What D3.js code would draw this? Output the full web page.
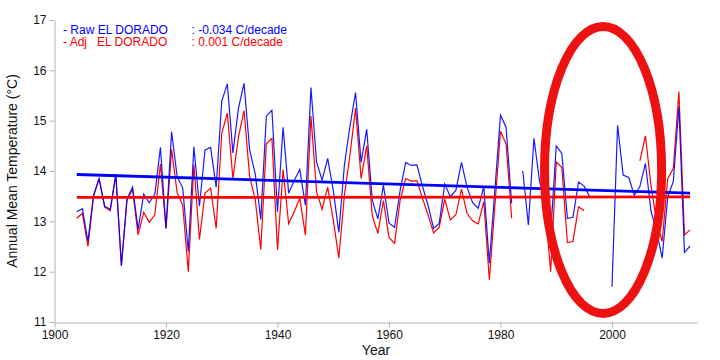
<!DOCTYPE html>
<html><head><meta charset="utf-8">
<script src="https://cdn.jsdelivr.net/npm/d3@7"></script>
<style>
body{margin:0;background:#fff}
text{font-family:"Liberation Sans",Arial,sans-serif}
</style>
</head><body>
<svg id="c" width="720" height="360"></svg>
<script>
// ---- data ----
const years = d3.range(1904, 2015);
const rawValues = [
13.19,13.25,12.60,13.52,13.85,13.30,13.24,13.94,12.12,13.44, // 1904-1913
13.68,12.84,13.54,13.37,13.54,14.47,12.86,14.78,13.89,13.66, // 1914-1923
12.40,14.48,13.30,14.42,14.47,13.68,15.39,15.73,14.36,15.25, // 1924-1933
15.74,14.42,13.95,13.04,15.09,15.21,13.19,14.87,13.56,13.81, // 1934-1943
14.03,13.32,15.66,14.18,13.82,14.25,13.62,12.78,14.12,14.89, // 1944-1953
15.56,14.17,14.83,13.42,13.05,13.72,12.97,12.88,13.62,14.17, // 1954-1963
14.11,14.12,13.70,13.32,12.86,12.96,13.74,13.49,13.62,14.17, // 1964-1973
13.68,13.37,13.26,13.69,12.17,13.64,15.11,14.87,13.36,null,  // 1974-1983
14.00,12.93,14.65,13.80,13.40,12.76,14.50,14.35,13.06,13.08, // 1984-1993
13.78,13.70,13.49,null,null,null,11.70,14.91,13.92,13.87,    // 1994-2003
13.52,13.69,14.15,13.20,12.80,12.27,13.49,13.79,15.28,12.38, // 2004-2013
12.51                                                        // 2014
];
const adjValues = [
13.06,13.16,12.50,13.49,13.85,13.28,13.21,13.92,12.12,13.42, // 1904-1913
13.64,12.73,13.18,12.98,13.13,14.14,12.86,14.43,13.57,13.32, // 1914-1923
12.00,14.13,12.64,13.56,13.66,12.86,14.75,15.15,13.85,14.68, // 1924-1933
15.20,13.89,13.44,12.44,14.54,14.65,12.43,14.03,12.95,13.19, // 1934-1943
13.46,12.73,15.09,13.59,13.24,13.68,13.03,12.27,13.52,14.32, // 1944-1953
15.25,13.85,14.50,13.11,12.76,13.41,12.68,12.56,13.42,13.85, // 1954-1963
13.80,13.81,13.46,13.13,12.77,12.88,13.44,13.03,13.13,13.64, // 1964-1973
13.16,13.01,12.95,13.39,11.84,13.32,14.79,14.54,13.06,null,  // 1974-1983
null,null,null,null,13.30,12.00,14.18,14.07,12.58,12.60,     // 1984-1993
13.29,13.21,null,null,null,null,null,null,null,null,         // 1994-2003
null,14.20,14.70,13.70,13.00,12.60,13.85,14.05,15.58,12.73,  // 2004-2013
12.83                                                        // 2014
];
const trendYears = [1904, 2014];
const rawTrend = [13.93, 13.56];
const adjTrend = [13.475, 13.485];
const xTicks = [1900, 1920, 1940, 1960, 1980, 2000];
const yTicks = [11, 12, 13, 14, 15, 16, 17];
const legendNames = ["- Raw EL DORADO", "- Adj   EL DORADO"];
const legendTrends = [": -0.034 C/decade", ": 0.001 C/decade"];
const highlight = {year: 1998.4, value: 14.02, dYear: 10.5, dValue: 2.85};

// ---- drawing ----
const svg = d3.select("#c");
const x = d3.scaleLinear().domain([1900, 2000]).range([54.5, 612]);
const y = d3.scaleLinear().domain([11, 17]).range([322, 20]);
const xEnd = 2015.3;

const axisColor = "#b4b4b4";
// y axis
const gy = svg.append("g").attr("transform", "translate(54.5,0)")
  .call(d3.axisLeft(y).tickValues(yTicks).tickFormat(d3.format("d"))
    .tickSize(5).tickPadding(3).tickSizeOuter(0));
// x axis
const gx = svg.append("g").attr("transform", "translate(0,322.5)")
  .call(d3.axisBottom(d3.scaleLinear().domain([1900, xEnd]).range([x(1900), x(xEnd)]))
    .tickValues(xTicks).tickFormat(d3.format("d")).tickSize(5).tickPadding(3).tickSizeOuter(0));
[gx, gy].forEach(g => {
  g.select(".domain").attr("stroke", axisColor);
  g.selectAll(".tick line").attr("stroke", axisColor);
  g.selectAll(".tick text").attr("fill", "#111").style("font-size", "12px")
    .style("font-family", '"Liberation Sans",Arial,sans-serif');
});

svg.append("text").attr("transform", "translate(17,171) rotate(-90)")
  .attr("text-anchor", "middle").style("font-size", "14px").attr("fill", "#111")
  .text("Annual Mean Temperature (°C)");
svg.append("text").attr("x", 376).attr("y", 355)
  .attr("text-anchor", "middle").style("font-size", "14px").attr("fill", "#111")
  .text("Year");

const line = d3.line().defined(d => d[1] != null).x(d => x(d[0])).y(d => y(d[1]));
const adjPts = years.map((yr, i) => [yr, adjValues[i]]);
const rawPts = years.map((yr, i) => [yr, rawValues[i]]);

svg.append("path").datum(adjPts).attr("d", line)
  .attr("fill", "none").attr("stroke", "#ff0000").attr("stroke-width", 1.2);
svg.append("path").datum(rawPts).attr("d", line)
  .attr("fill", "none").attr("stroke", "#0000ff").attr("stroke-width", 1.2).attr("stroke-opacity", 0.9);

const tline = d3.line().x(d => x(d[0])).y(d => y(d[1]));
svg.append("path").datum(trendYears.map((t, i) => [t, adjTrend[i]])).attr("d", tline)
  .attr("fill", "none").attr("stroke", "#ff0000").attr("stroke-width", 2.8);
svg.append("path").datum(trendYears.map((t, i) => [t, rawTrend[i]])).attr("d", tline)
  .attr("fill", "none").attr("stroke", "#0000ff").attr("stroke-width", 2.8);

// legend
const legColors = ["#0000ff", "#ff0000"];
legendNames.forEach((n, i) => {
  svg.append("text").attr("x", 63).attr("y", 33.5 + i * 12.5)
    .style("font-size", "12px").style("white-space", "pre").attr("xml:space", "preserve")
    .attr("fill", legColors[i]).text(n);
  svg.append("text").attr("x", 191.5).attr("y", 33.5 + i * 12.5)
    .style("font-size", "12px").attr("fill", legColors[i]).text(legendTrends[i]);
});

// highlight ellipse
svg.append("ellipse")
  .attr("cx", x(highlight.year)).attr("cy", y(highlight.value))
  .attr("rx", x(highlight.year + highlight.dYear) - x(highlight.year))
  .attr("ry", y(highlight.value) - y(highlight.value + highlight.dValue))
  .attr("fill", "none").attr("stroke", "#ee1111").attr("stroke-width", 9);
</script>
</body></html>
